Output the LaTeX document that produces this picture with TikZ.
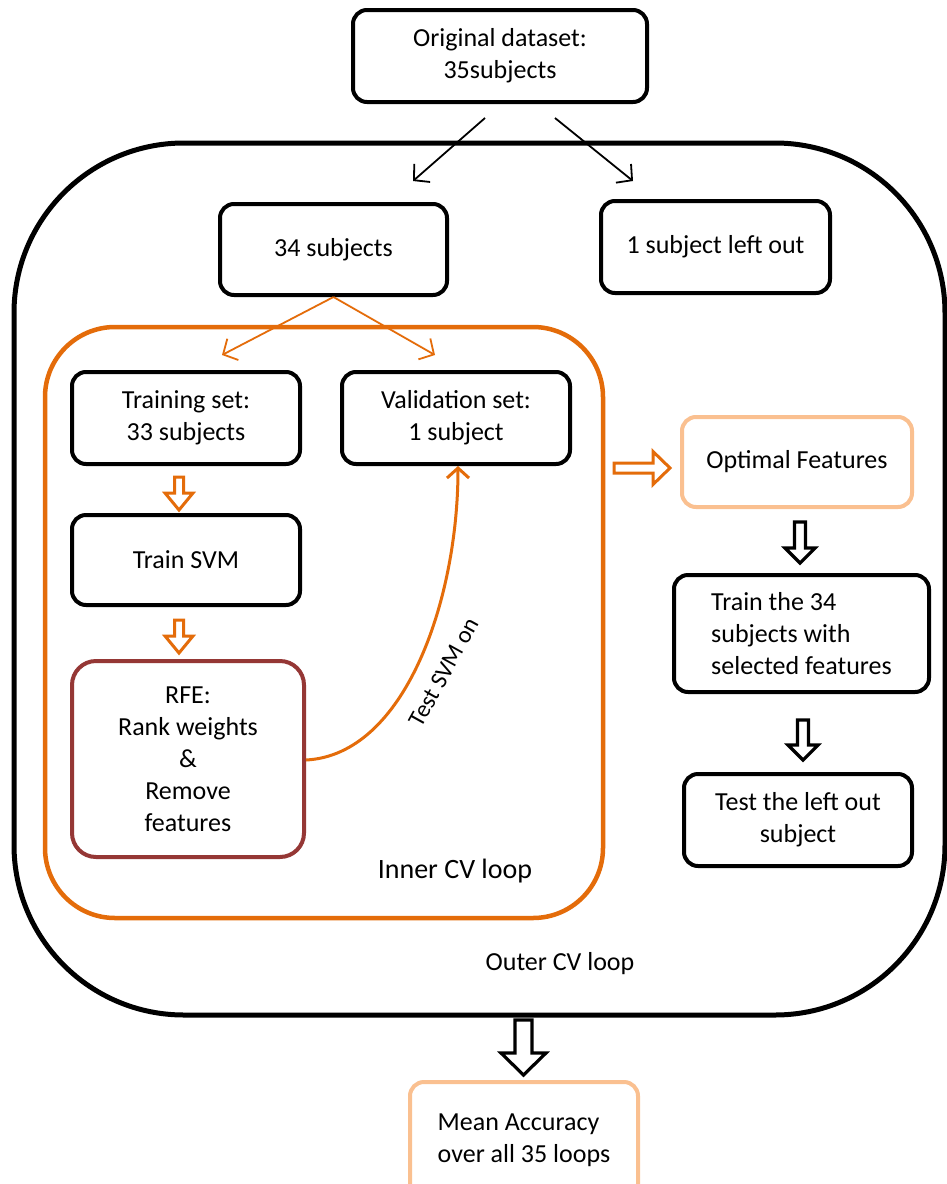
\documentclass[tikz,border=0pt]{standalone}
\usepackage{fontspec}
\setmainfont{Carlito}
\usetikzlibrary{arrows.meta,calc}
\definecolor{ora}{HTML}{E46C0A}
\definecolor{lora}{HTML}{FAC090}
\definecolor{dred}{HTML}{953735}
\tikzset{
  box/.style={draw=black, line width=4pt, rounded corners=14pt, align=center, inner sep=0pt,
    font=\fontsize{26}{32}\selectfont},
  thinarr/.style={line width=1.8pt, -{Straight Barb[length=11pt,width=24pt,line width=1.8pt]}},
  pics/hdown/.style n args={4}{code={
    \draw[pic actions] (-#2,0) -- (#2,0) -- (#2,{#1-#4}) -- (#3,{#1-#4}) -- (0,#1) -- (-#3,{#1-#4}) -- (-#2,{#1-#4}) -- cycle;
  }},
  oarrow/.style={draw=ora, line width=3pt, fill=white, line join=miter},
  barrow/.style={draw=black, line width=3.2pt, fill=white, line join=miter},
  lbl/.style={font=\fontsize{26}{32}\selectfont, inner sep=0pt}
}
\begin{document}
\begin{tikzpicture}[x=1pt,y=-1pt]
\useasboundingbox (0,0) rectangle (947,1184);
\fill[white] (0,0) rectangle (947,1184);
% containers
\node[draw=black, line width=5pt, rounded corners=170pt, minimum width=931pt, minimum height=872pt, inner sep=0pt] (outer) at (479.5,579) {};
\node[draw=ora, line width=4.5pt, rounded corners=70pt, minimum width=558pt, minimum height=591pt, inner sep=0pt] (inner) at (324,622.5) {};
% boxes
\node[box, minimum width=294pt, minimum height=92pt] (orig) at (500,56) {Original dataset:\\35subjects};
\node[box, minimum width=227pt, minimum height=91pt] (s34) at (333.5,249.5) {34 subjects};
\node[box, minimum width=229pt, minimum height=92pt] (left) at (715.5,247) {1 subject left out};
\node[box, minimum width=228pt, minimum height=92pt] (train) at (186,418) {Training set:\\33 subjects};
\node[box, minimum width=228pt, minimum height=92pt] (valid) at (456,418) {Validation set:\\1 subject};
\node[box, minimum width=228pt, minimum height=90pt] (svm) at (186,560) {Train SVM};
\node[box, draw=dred, minimum width=232pt, minimum height=196pt, rounded corners=24pt] (rfe) at (188,759) {RFE:\\Rank weights\\\&\\Remove\\features};
\node[box, draw=lora, minimum width=230pt, minimum height=90pt] (opt) at (797,462) {Optimal Features};
\node[box, minimum width=255pt, minimum height=117pt, align=left] (tr34) at (801.5,633.5) {Train the 34\\subjects with\\selected features};
\node[box, minimum width=228pt, minimum height=92pt] (test) at (798,820) {Test the left out\\subject};
\node[box, draw=lora, minimum width=228pt, minimum height=116pt, align=left] (mean) at (524,1140) {Mean Accuracy\\over all 35 loops};
% labels
\node[lbl, font=\fontsize{28}{32}\selectfont] (innerlbl) at (455,871) {Inner CV loop};
\node[lbl] (outerlbl) at (560,964) {Outer CV loop};
% thin arrows
\draw[thinarr] ($(orig.south)+(-15,14)$) -- ($(s34.north)+(79.5,-21)$);
\draw[thinarr] ($(orig.south)+(55,14)$) -- ($(left.north)+(-82.5,-18)$);
\draw[thinarr, draw=ora] (s34.south) -- ($(train.north)+(36,-15)$);
\draw[thinarr, draw=ora] (s34.south) -- ($(valid.north)+(-21,-15)$);
% curved arrow
\coordinate (cs) at (rfe.east |- 0,760);
\coordinate (ce) at (valid.south -| 458,0);
\draw[ora, line width=3pt, -{Straight Barb[length=10pt,width=22pt,line width=3pt]}] (cs) .. controls (405,755) and (458,600) .. (ce);
\node[font=\fontsize{24}{28}\selectfont, rotate=61, inner sep=0pt] (testlbl) at (444,672) {Test SVM on};
% hollow arrows
\pic[oarrow] at (179,477) {hdown={33}{4.5}{14}{17}};
\pic[oarrow] at (179,620) {hdown={33}{4.5}{14}{17}};
\pic[oarrow, rotate=90] at (614,468) {hdown={56}{5}{16.5}{17}};
\pic[barrow] at (800,522) {hdown={41}{5.5}{15}{15}};
\pic[barrow] at (803,720) {hdown={40}{5.5}{15}{15}};
\pic[barrow] at (523.5,1020) {hdown={55}{8.5}{22.5}{22}};
\end{tikzpicture}
\end{document}
